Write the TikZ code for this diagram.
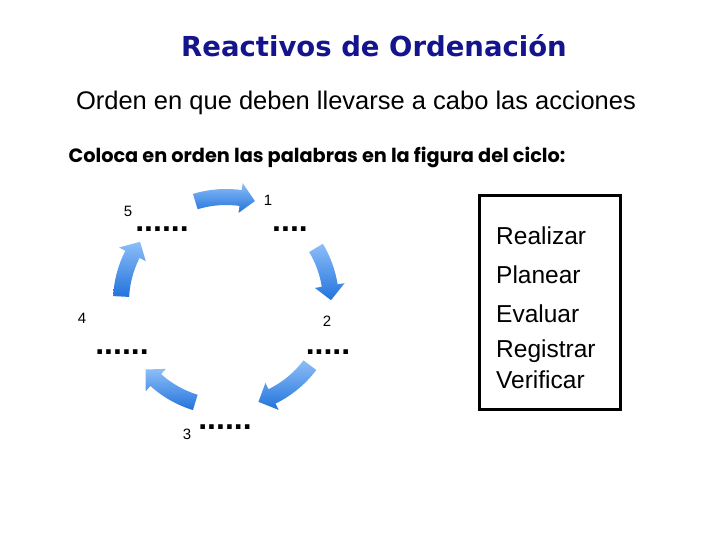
\documentclass[tikz,border=0pt]{standalone}
\usepackage{fontspec}
\setmainfont{Liberation Sans}
\newfontfamily\headfont{DejaVu Sans}
\newfontfamily\notefont{Poppins}
\usepackage{xcolor}
\usetikzlibrary{positioning}

\definecolor{titleblue}{RGB}{20,20,140}
\definecolor{arrowlight}{RGB}{140,190,248}
\definecolor{arrowdark}{RGB}{35,115,220}

% curved block arrow of the cycle, from angle #1 down to angle #2 (clockwise)
\newcommand{\cyclearrow}[2]{%
  \shade[top color=arrowlight,bottom color=arrowdark]
    ({-(#1)}:113) arc[start angle={-(#1)},end angle={-(#2)-8},radius=113]
    -- ({-(#2)-8}:120) -- ({-(#2)}:105) -- ({-(#2)-8}:90)
    -- ({-(#2)-8}:97) arc[start angle={-(#2)-8},end angle={-(#1)},radius=97] -- cycle;}

\begin{document}
\begin{tikzpicture}[
  x=1pt, y=-1pt,
  dots/.style={anchor=base,inner sep=0pt,font=\bfseries\fontsize{32}{34}\selectfont},
  num/.style={inner sep=0pt,font=\fontsize{15}{17}\selectfont},
  word/.style={anchor=base west,inner sep=0pt,font=\fontsize{24.5}{26}\selectfont}
]
  \useasboundingbox[fill=white] (0,0) rectangle (720,540);

  \node[anchor=base,inner sep=0pt,text=titleblue,font=\headfont\bfseries\fontsize{27.5}{30}\selectfont]
    (title) at (374,57) {Reactivos de Ordenación};
  \node[anchor=base,inner sep=0pt,font=\fontsize{25.5}{28}\selectfont]
    (subtitle) at (356,110) {Orden en que deben llevarse a cabo las acciones};
  \node[anchor=base,inner sep=0pt,font=\notefont\bfseries\fontsize{19.3}{22}\selectfont]
    (task) at (317,163) {Coloca en orden las palabras en la figura del ciclo:};

  % the cycle
  \begin{scope}[shift={(226,302)}]
    \cyclearrow{107}{74}
    \cyclearrow{31}{1}
    \cyclearrow{-37}{-72}
    \cyclearrow{-107}{-140}
    \cyclearrow{177}{145}
  \end{scope}

  \node[num] (n1) at (268,200) {1};
  \node[num] (n2) at (327,321) {2};
  \node[num] (n3) at (187,434) {3};
  \node[num] (n4) at (82,318) {4};
  \node[num] (n5) at (128,211) {5};

  \node[dots] (d1) at (290,232) {....};
  \node[dots] (d2) at (328,354) {.....};
  \node[dots] (d3) at (225,429) {......};
  \node[dots] (d4) at (122,354) {......};
  \node[dots] (d5) at (162,232) {......};

  % word list
  \draw[line width=3pt] (479,196) rectangle (620,409);
  \node[word] (w1) at (496,244) {Realizar};
  \node[word] (w2) at (496,283) {Planear};
  \node[word] (w3) at (496,322) {Evaluar};
  \node[word] (w4) at (496,357) {Registrar};
  \node[word] (w5) at (496,388) {Verificar};
\end{tikzpicture}
\end{document}
